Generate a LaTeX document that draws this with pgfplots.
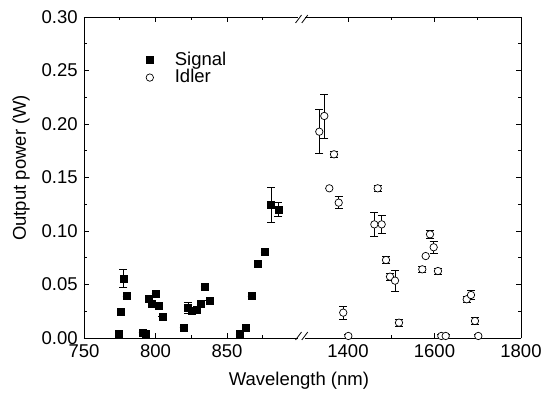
\documentclass[border=0pt]{standalone}
\usepackage{fontspec}
\setmainfont{Liberation Sans}
\usepackage{pgfplots}
\pgfplotsset{compat=1.18}
\pgfplotstableread{
x y ey
774.5 0.0044 0
775.9 0.0243 0
777.5 0.0558 0.0088
779.8 0.0393 0
791.0 0.0050 0
793.4 0.0044 0
795.5 0.0370 0
797.6 0.0324 0
800.1 0.0417 0
802.4 0.0299 0
804.8 0.0199 0
819.7 0.0100 0
822.7 0.0283 0.005
825.5 0.0252 0
828.8 0.0268 0
831.8 0.0318 0
834.6 0.0480 0
837.6 0.0352 0
859.0 0.0037 0
863.3 0.0100 0
867.3 0.0393 0
871.7 0.0698 0
876.4 0.0804 0
880.8 0.1243 0.0165
885.9 0.1203 0.0064
}\signal
\pgfplotstableread{
x y ey
1333.6 0.1928 0.0206
1345.2 0.2075 0.0207
1356.8 0.1399 0
1367.6 0.1717 0.003
1378.5 0.1265 0.0056
1389.0 0.0237 0.006
1400.8 0.0019 0.002
1460.9 0.1062 0.011
1468.7 0.1399 0.003
1477.9 0.1062 0.0084
1487.9 0.0729 0.003
1497.1 0.0573 0.003
1508.7 0.0536 0.0101
1517.9 0.0143 0.003
1571.8 0.0642 0.003
1579.6 0.0766 0
1589.6 0.0969 0.004
1598.1 0.0848 0.0055
1608.0 0.0626 0.003
1615.8 0.0019 0.002
1625.9 0.0019 0.002
1674.5 0.0362 0.003
1684.4 0.0402 0.0044
1693.6 0.0159 0.003
1701.3 0.0019 0.002
}\idler
\newcommand\fnt{\fontsize{18.5}{22}\selectfont}
\begin{document}
\fnt
\begin{tikzpicture}
\useasboundingbox (-84pt,-64pt) rectangle (457pt,338pt);
\pgfplotsset{
 common/.style={
  scale only axis, height=321pt, ymin=0, ymax=0.30,
  ytick={0,0.05,0.10,0.15,0.20,0.25,0.30}, minor y tick num=1,
  tick align=inside, major tick length=5pt, minor tick length=3pt,
  axis line style={line width=0.8pt},
  every tick/.style={black, line width=0.6pt},
  tick label style={font=\fnt},
  xticklabel style={/pgf/number format/.cd, set thousands separator={}},
  yticklabel style={/pgf/number format/.cd, fixed, fixed zerofill, precision=2},
  /pgf/number format/assume math mode=true,
  clip=false,
  error bars/error bar style={line width=0.6pt, black},
  error bars/error mark options={rotate=90, mark size=4pt, line width=0.6pt, black},
 }
}
\begin{axis}[common, at={(0pt,0pt)}, anchor=south west, width=214.5pt,
  xmin=750, xmax=900, xtick={750,800,850}, minor xtick={775,825,875},
  axis y line*=left,
  ylabel={Output power (W)},
  ylabel style={at={(axis description cs:-0.2937,0.53)}, anchor=center, font=\fnt},
  xlabel={Wavelength (nm)},
  xlabel style={at={(axis description cs:1.002,-0.134)}, anchor=center, font=\fnt},
  legend style={draw=none, fill=none, at={(axis description cs:0.2733,0.9)}, anchor=north west,
    font=\fnt, row sep=0.5pt, nodes={inner ysep=0.5pt, inner xsep=2pt}},
  legend cell align=left,
  legend image code/.code={\path[draw=none, fill=none] (-4pt,0pt) -- (23pt,0pt);
    \draw[#1] plot coordinates {(0pt,0pt)};},
]
\addplot[only marks, mark=square*, mark size=3.5pt, black,
  error bars/.cd, y dir=both, y explicit] table[x=x, y=y, y error=ey] {\signal};
\addlegendentry{Signal}
\addlegendimage{only marks, mark=*, mark size=3.7pt, black, mark options={fill=white, line width=0.7pt}}
\addlegendentry{Idler}
\end{axis}
\begin{axis}[common, at={(220.75pt,0pt)}, anchor=south west, width=216.25pt,
  xmin=1300, xmax=1800, xtick={1400,1600,1800}, minor xtick={1500,1700},
  axis y line*=right, yticklabels={},
]
\addplot[only marks, mark=*, mark size=3.7pt, black, mark options={fill=white, line width=0.7pt},
  error bars/.cd, y dir=both, y explicit] table[x=x, y=y, y error=ey] {\idler};
\end{axis}
\draw[line width=0.8pt] (211.5pt,-2pt) -- (217.5pt,6pt);
\draw[line width=0.8pt] (217.75pt,-2pt) -- (223.75pt,6pt);
\draw[line width=0.8pt] (211.5pt,315pt) -- (217.5pt,323pt);
\draw[line width=0.8pt] (217.75pt,315pt) -- (223.75pt,323pt);
\end{tikzpicture}
\end{document}
